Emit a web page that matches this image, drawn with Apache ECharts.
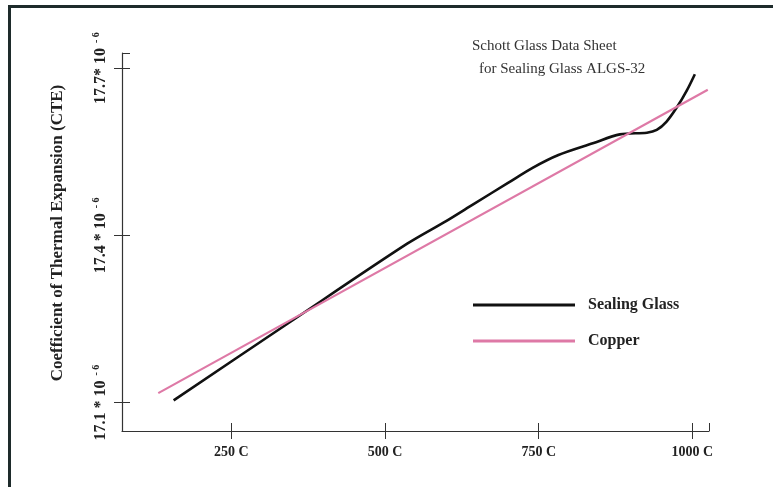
<!DOCTYPE html>
<html>
<head>
<meta charset="utf-8">
<script src="https://cdn.jsdelivr.net/npm/echarts@6/dist/echarts.min.js"></script>
<style>
  html, body { margin: 0; padding: 0; background: #fff; }
  #chart { width: 773px; height: 487px; }
</style>
</head>
<body>
<div id="chart"></div>
<script>
// temperatures (C) and CTE values
var glassTemp = [156, 346, 536, 600, 644, 700, 740, 782, 838, 882, 926, 942, 958, 975, 991, 1004];
var glassCte  = [17.104, 17.245, 17.385, 17.426, 17.456, 17.494, 17.521, 17.544, 17.565, 17.581, 17.584, 17.589, 17.604, 17.630, 17.660, 17.689];
var copperTemp = [131, 1025];
var copperCte  = [17.117, 17.661];

var xTickValues = [250, 500, 750, 1000];
var xTickLabels = ['250 C', '500 C', '750 C', '1000 C'];
var yTickValues = [17.1, 17.4, 17.7];
var yTickLabels = ['17.1 * 10', '17.4 * 10', '17.7* 10'];

var xMin = 72, xMax = 1027;
var yMin = 17.049, yMax = 17.727;

var serif = '"Liberation Serif", "DejaVu Serif", serif';
var ink = '#222';

function pairs(xs, ys) {
    var out = [];
    for (var i = 0; i < xs.length; i++) out.push([xs[i], ys[i]]);
    return out;
}

// the inner half of the cross-shaped ticks comes from two extra axes that are
// rescaled copies of the real ones (250 C -> 200, 17.1 -> 100), so their
// automatic ticks fall exactly on the real tick positions
function toX2(v) { return v * 0.8; }
function toY2(v) { return (v - 16.8) * 1000 / 3; }

var myChart = echarts.init(document.getElementById('chart'));

var axisLine = { lineStyle: { color: '#333', width: 1.2 } };
var ghostLine = { show: true, onZero: false, lineStyle: { color: 'rgba(0,0,0,0)' } };
var innerTick = { show: true, inside: true, length: 8, lineStyle: { color: '#333' } };

var option = {
    backgroundColor: '#fff',
    animation: false,
    title: [{
        text: 'Schott Glass Data Sheet',
        left: 467, top: 34,
        textStyle: { fontFamily: serif, fontWeight: 'normal', fontSize: 15, color: '#333' }
    }, {
        text: 'for Sealing Glass ALGS-32',
        left: 474, top: 57,
        textStyle: { fontFamily: serif, fontWeight: 'normal', fontSize: 15, color: '#333' }
    }],
    legend: {
        orient: 'vertical',
        left: 468, top: 292,
        icon: 'rect',
        itemWidth: 102, itemHeight: 3,
        itemGap: 20,
        textStyle: { fontFamily: serif, fontWeight: 'bold', fontSize: 16, color: ink, padding: [0, 0, 0, 8] },
        data: ['Sealing Glass', 'Copper']
    },
    grid: { left: 122, right: 64, top: 53, bottom: 56 },
    xAxis: [{
        type: 'value', min: xMin, max: xMax,
        axisLine: axisLine,
        splitLine: { show: false },
        axisTick: { show: true, customValues: xTickValues, length: 8, lineStyle: { color: '#333' } },
        axisLabel: {
            customValues: xTickValues, margin: 14,
            formatter: function (v) { return xTickLabels[xTickValues.indexOf(v)]; },
            fontFamily: serif, fontWeight: 'bold', fontSize: 14, color: ink
        }
    }, {
        type: 'value', min: toX2(xMin), max: toX2(xMax), splitNumber: 4,
        position: 'bottom', offset: 0,
        axisLine: ghostLine, splitLine: { show: false },
        axisTick: innerTick,
        axisLabel: { show: false }
    }],
    yAxis: [{
        type: 'value', min: yMin, max: yMax,
        name: 'Coefficient of Thermal Expansion (CTE)',
        nameLocation: 'middle', nameGap: 56,
        nameTextStyle: { fontFamily: serif, fontWeight: 'bold', fontSize: 17, color: ink, padding: [0, 0, 0, 18] },
        axisLine: axisLine,
        splitLine: { show: false },
        axisTick: { show: true, customValues: yTickValues, length: 8, lineStyle: { color: '#333' } },
        axisLabel: {
            customValues: yTickValues, rotate: 90, margin: 13,
            formatter: function (v) {
                return '{m|' + yTickLabels[yTickValues.indexOf(v)] + '}{s|  - 6}';
            },
            rich: {
                m: { fontFamily: serif, fontWeight: 'bold', fontSize: 16, color: ink, lineHeight: 18, verticalAlign: 'bottom' },
                s: { fontFamily: serif, fontWeight: 'bold', fontSize: 10, color: ink, lineHeight: 10, verticalAlign: 'top' }
            }
        }
    }, {
        type: 'value', min: toY2(yMin), max: toY2(yMax), splitNumber: 2,
        position: 'left', offset: 0,
        axisLine: ghostLine, splitLine: { show: false },
        axisTick: innerTick,
        axisLabel: { show: false }
    }],
    graphic: [
        { type: 'line', shape: { x1: 9, y1: 6.5, x2: 773, y2: 6.5 }, style: { stroke: '#1e2b2b', lineWidth: 3 } },
        { type: 'line', shape: { x1: 9.5, y1: 5, x2: 9.5, y2: 487 }, style: { stroke: '#1e2b2b', lineWidth: 3 } }
    ],
    series: [{
        name: 'Sealing Glass',
        type: 'line',
        data: pairs(glassTemp, glassCte),
        smooth: 0.3,
        showSymbol: false,
        color: '#111',
        lineStyle: { color: '#111', width: 2.6 }
    }, {
        name: 'Copper',
        type: 'line',
        data: pairs(copperTemp, copperCte),
        showSymbol: false,
        color: '#de79a6',
        lineStyle: { color: '#de79a6', width: 2.2 }
    }]
};
myChart.setOption(option);
</script>
</body>
</html>
